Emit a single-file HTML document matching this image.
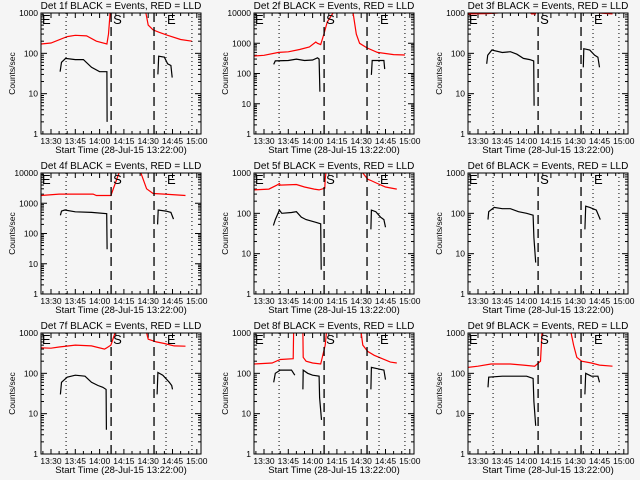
<!DOCTYPE html>
<html><head><meta charset="utf-8">
<style>
html,body{margin:0;padding:0;background:#f5f5f5;}
svg{display:block;font-family:"Liberation Sans",sans-serif;}
</style></head>
<body>
<svg id="chart" width="640" height="480" viewBox="0 0 640 480" xmlns="http://www.w3.org/2000/svg"></svg>
<script>
// Data: times in minutes after 13:00, values in counts/sec; null = break
const detNames = ["1f","2f","3f","4f","5f","6f","7f","8f","9f"];
const yMaxDecades = [3,4,3,4,3,3,3,3,3];
const xTickLabels = ["13:30","13:45","14:00","14:15","14:30","14:45","15:00"];
const xTickMinutes = [30,45,60,75,90,105,120];
const dashedMinutes = [67.1,93.6];
const dottedMinutes = [39.3,101,117];
const red1 = [[23.8,170],[30,180],[40,260],[45,280],[52,270],[58,200],[64.5,170],[65.5,300],[66.5,1000],null,[88.6,1000],[90,500],[93,380],[97,330],[102,280],[110,220],[117,200]];
const black1 = [[35.6,35],[36.5,60],[39,75],[45,70],[50,70],[55,45],[60,35],[64.5,35],[64.6,2],null,[96,30],[96.5,85],[100,80],[102,55],[104,50],[104.8,25]];
const red2 = [[23.8,380],[30,400],[39,500],[45,520],[52,620],[58,750],[62,1100],[63,1000],[65,900],[67,2000],[69,5000],[72.6,10000],null,[85,10000],[87,2000],[89,1000],[93.6,700],[100,500],[110,420],[117,410]];
const black2 = [[36,200],[37,260],[45,270],[50,300],[55,270],[60,280],[63,330],[64,300],[64.5,25],null,[96.3,90],[96.8,270],[100,270],[104,270],[104.5,140]];
const red3 = [[23.8,950],[35,960],[42,1000],[48,1050],[62,1050],[63,950],[65.8,950],null,[96.7,1050],[105,1000],[113,950]];
const black3 = [[35.4,55],[36,90],[38.5,120],[45,105],[50,110],[54,95],[58,75],[62,70],[64.4,65],[64.6,5],null,[95,45],[95.3,130],[99,120],[102,90],[104,80],[105,45]];
const red4 = [[23.8,1800],[35,2000],[56,2000],[58,1800],[67,1800],[72,10000],null,[85.5,10000],[89,3000],[93,2100],[100,2000],[113,1800]];
const black4 = [[35.8,400],[36.5,550],[38.5,600],[45,520],[55,500],[64.4,450],[64.6,30],null,[95.8,200],[96.2,600],[101,550],[104,500],[105.6,300]];
const red5 = [[23.8,380],[33,400],[38,500],[39.5,550],[40,500],[50,520],[55,450],[61,400],[64,380],[67.5,420],[67.8,700],[68.2,1000],null,[91,1000],[94,700],[96,650],[100,550],[105,450],[112,400]];
const black5 = [[35.8,50],[37,70],[39.5,120],[41,100],[47,105],[50,110],[53,80],[56,70],[62,60],[65,55],[65.3,4],null,[96,40],[96.3,120],[99,110],[102,80],[104,70],[105,45]];
const red6 = [];
const black6 = [[36.2,70],[36.6,110],[40,140],[45,130],[50,130],[55,110],[60,100],[64,90],[64.5,25],[65.6,6],null,[96,40],[96.5,150],[99,140],[103,120],[105.5,70]];
const red7 = [[23.8,430],[30,420],[35,450],[45,500],[55,480],[63,400],[64,420],[67,500],[69.5,1000],null,[89,1000],[90,700],[95,600],[100,550],[106,480],[113,470]];
const black7 = [[35.8,30],[36.5,60],[40,80],[45,90],[51,85],[55,60],[59,50],[62,45],[64,40],[64.2,4],null,[95.5,30],[96,105],[99,90],[103,60],[104.5,50],[105,40]];
const red8 = [[23.8,170],[35,180],[40,220],[48,230],[48.3,1000],null,[54,1000],[54.2,250],[56,200],[60,180],[65,170],[67.8,500],[68.5,1000],null,[90,1000],[91,500],[94,350],[98,280],[103,230],[108,190],[112,180]];
const black8 = [[36,60],[37,100],[40,120],[47,120],[49,90],null,[54,40],[54.2,120],[57,100],[60,90],[64,85],[64.3,25],[65.5,7],null,[96,40],[96.3,140],[100,130],[104,120],[105,70]];
const red9 = [[23.8,140],[30,150],[38,170],[50,170],[58,160],[65,150],[68.6,200],[69.5,1000],null,[87.5,1000],[89,500],[91,250],[94,200],[100,180],[105,160],[113,150]];
const black9 = [[36.2,45],[36.6,80],[45,85],[60,85],[64,75],[64.5,20],[65.6,5],null,[96,30],[96.5,100],[100,85],[104,85],[105,60]];
const redSeries = [red1,red2,red3,red4,red5,red6,red7,red8,red9];
const blackSeries = [black1,black2,black3,black4,black5,black6,black7,black8,black9];

const NS="http://www.w3.org/2000/svg";
const svg=document.getElementById('chart');
function mk(tag,attrs,parent){const e=document.createElementNS(NS,tag);for(const k in attrs)e.setAttribute(k,attrs[k]);(parent||svg).appendChild(e);return e;}
const colOff=[0,213,427], rowOff=[0,160,320];
const BL=41, BW=160, BT=13, BH=121;
for(let p=0;p<9;p++){
  const ox=colOff[p%3], oy=rowOff[Math.floor(p/3)];
  const L=ox+BL, R=L+BW, T=oy+BT, B=T+BH;
  const dec=yMaxDecades[p];
  const xs=m=>L+10+(m-30)*1.62;
  const ys=v=>B-Math.log10(Math.max(v,1e-3))/dec*BH;
  const g=mk('g',{});
  
  
  const cp=mk('clipPath',{id:'cp'+p},g);
  mk('rect',{x:L,y:T,width:BW,height:BH},cp);
  const title=mk('text',{x:L+BW/2,y:oy+9,'text-anchor':'middle','font-size':'10'},g);
  title.textContent='Det '+detNames[p]+' BLACK = Events, RED = LLD';
  
  
  for(let m=25;m<=120;m+=5){
    const x=xs(m); if(x<L||x>R) continue;
    const major=(m%15===0);const len=major?5:3;
    mk('line',{x1:x,y1:B,x2:x,y2:B-len,stroke:'#000','stroke-width':1},g);
    mk('line',{x1:x,y1:T,x2:x,y2:T+len,stroke:'#000','stroke-width':1},g);
  }
  xTickLabels.forEach((lab,i)=>{
    const t=mk('text',{x:xs(xTickMinutes[i]),y:B+10,'text-anchor':'middle','font-size':'8.5'},g);
    t.textContent=lab;
    
    
  });
  const xt=mk('text',{x:L+BW/2,y:B+19,'text-anchor':'middle','font-size':'9.5'},g);
  xt.textContent='Start Time (28-Jul-15 13:22:00)';
  
  
  for(let d=0;d<=dec;d++){
    for(let k=1;k<=9;k++){
      if(d===dec&&k>1) break;
      const y=ys(k*Math.pow(10,d));const len=k===1?6:3;
      mk('line',{x1:L,y1:y,x2:L+len,y2:y,stroke:'#000','stroke-width':1},g);
      mk('line',{x1:R,y1:y,x2:R-len,y2:y,stroke:'#000','stroke-width':1},g);
    }
    const t=mk('text',{x:L-3,y:ys(Math.pow(10,d))+3,'text-anchor':'end','font-size':'8.5'},g);
    t.textContent=String(Math.pow(10,d));
    
    
  }
  const yt=mk('text',{x:0,y:0,'text-anchor':'middle','font-size':'8.5',transform:'translate('+(ox+15)+','+(T+BH/2)+') rotate(-90)'},g);
  yt.textContent='Counts/sec';
  
  
  function draw(series,color,name){
    let seg=[];const segs=[];
    series.forEach(pt=>{if(pt===null){if(seg.length)segs.push(seg);seg=[];}else seg.push(pt);});
    if(seg.length)segs.push(seg);
    segs.forEach(s=>{
      const pl=mk('polyline',{points:s.map(pt=>xs(pt[0]).toFixed(1)+','+ys(pt[1]).toFixed(1)).join(' '),fill:'none',stroke:color,'stroke-width':1.2,'clip-path':'url(#cp'+p+')'},g);
      
      
    });
  }
  draw(redSeries[p],'#ff0000','lld-line');
  draw(blackSeries[p],'#000000','events-line');
  dashedMinutes.forEach(m=>{
    const l=mk('line',{x1:xs(m),y1:T,x2:xs(m),y2:B,stroke:'#000','stroke-width':1.3,'stroke-dasharray':'9,5'},g);
    
    
  });
  dottedMinutes.forEach(m=>{
    const l=mk('line',{x1:xs(m),y1:T,x2:xs(m),y2:B,stroke:'#000','stroke-width':1,'stroke-dasharray':'1,3'},g);
    
    
  });
  const labs=[['E',L+1],['S',xs(dashedMinutes[0])+2],['E',xs(dottedMinutes[1])+1]];
  labs.forEach(a=>{
    const t=mk('text',{x:a[1],y:T+11,'font-size':'13'},g);
    t.textContent=a[0];
    
    
  });
  const box=mk('rect',{x:L,y:T,width:BW,height:BH,fill:'none',stroke:'#000','stroke-width':1},g);
  
  
}
</script>
</body></html>
